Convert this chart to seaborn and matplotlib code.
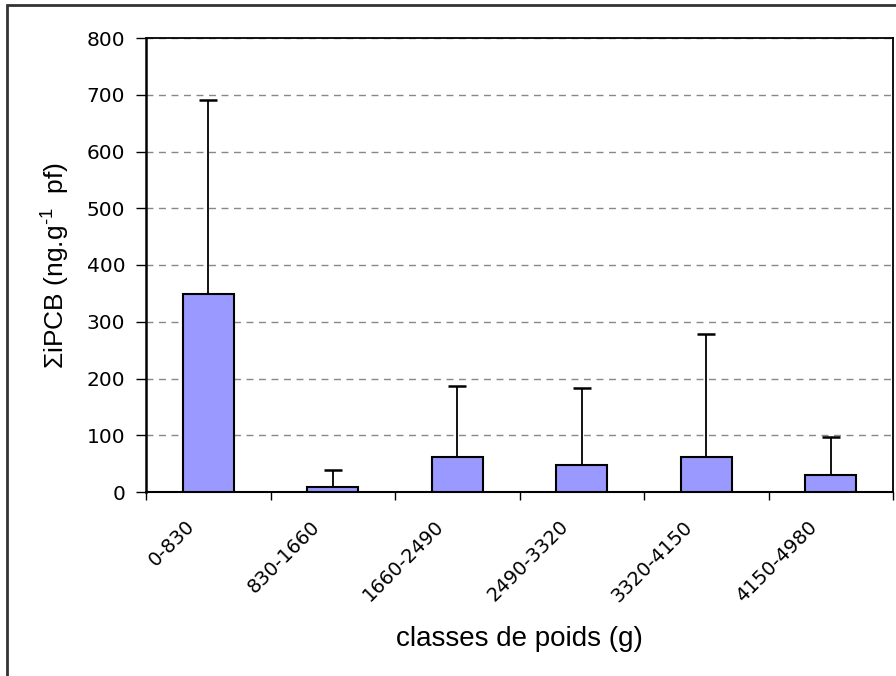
import matplotlib
matplotlib.use("Agg")
import matplotlib.pyplot as plt
import matplotlib.transforms as mtransforms
import seaborn as sns
import pandas as pd
import numpy as np
from matplotlib.ticker import FixedLocator, MultipleLocator
from matplotlib.patches import Rectangle

categories = ["0-830", "830-1660", "1660-2490", "2490-3320", "3320-4150", "4150-4980"]
means = [349, 9, 61, 48, 61, 30]
sd_upper = [342, 30, 125, 136, 217, 67]

sns.set_theme(style="white")
plt.rcParams['font.family'] = ['DejaVu Sans']
plt.rcParams['mathtext.fontset'] = 'custom'
plt.rcParams['mathtext.rm'] = 'Liberation Sans'
plt.rcParams['mathtext.it'] = 'Liberation Sans:italic'
plt.rcParams['mathtext.bf'] = 'Liberation Sans:bold'

df = pd.DataFrame({"classe": categories, "ipcb": means})

fig = plt.figure(figsize=(8.96, 6.76), dpi=100)
ax = fig.add_axes([146/896, 1-492/676, (893-146)/896, (492-38)/676])

sns.barplot(data=df, x="classe", y="ipcb", ax=ax, color="#9999FF", saturation=1,
            edgecolor="black", linewidth=1.5, width=0.41, errorbar=None, zorder=3)

xpos = np.arange(len(categories))
ax.errorbar(xpos, means, yerr=[np.zeros(len(means)), sd_upper], fmt="none",
            ecolor="black", elinewidth=1.3, capsize=6.5, capthick=1.8, zorder=2)

ax.set_ylim(0, 800)
ax.set_xlim(-0.5, len(categories) - 0.5)
ax.yaxis.set_major_locator(MultipleLocator(100))
ax.yaxis.grid(True, linestyle=(0, (5, 4)), color="#888888", linewidth=1.0, zorder=0)
ax.set_axisbelow(True)

for s in ["left", "bottom", "top", "right"]:
    ax.spines[s].set_color("black")
ax.spines["left"].set_linewidth(1.8)
ax.spines["bottom"].set_linewidth(1.5)
ax.spines["top"].set_linewidth(1.3)
ax.spines["right"].set_linewidth(1.3)

ax.xaxis.set_minor_locator(FixedLocator(np.arange(-0.5, len(categories), 1.0)))
ax.tick_params(axis="x", which="major", length=0, pad=0)
ax.tick_params(axis="x", which="minor", length=6, width=1.0, color="black", direction="out", bottom=True)
ax.tick_params(axis="y", which="major", length=7, width=1.0, color="black", direction="out", left=True,
               labelsize=14.5, pad=8, labelcolor="black")
ax.set_xticks(xpos)
ax.set_xticklabels(categories, rotation=45, ha="right", va="top", rotation_mode="anchor",
                   fontsize=14, color="black")
offset = mtransforms.ScaledTranslation(-23/100, -25/100, fig.dpi_scale_trans)
for lab in ax.get_xticklabels():
    lab.set_transform(lab.get_transform() + offset)

ax.set_xlabel("classes de poids (g)", fontsize=20, family="Liberation Sans", color="black")
ax.xaxis.set_label_coords(0.5, (492-626)/454)
ax.set_ylabel(r"ΣiPCB (ng.g$^{\text{-1}}$  pf)", fontsize=19, family="Liberation Sans", color="black")
ax.yaxis.set_label_coords((72-146)/747, 0.5)

# outer frame
fig.patches.append(Rectangle((7/896, -0.05), 1.2, 1 - 5/676 + 0.05, transform=fig.transFigure,
                             fill=False, edgecolor="#333333", linewidth=2))

fig.savefig("out.png", dpi=100)
